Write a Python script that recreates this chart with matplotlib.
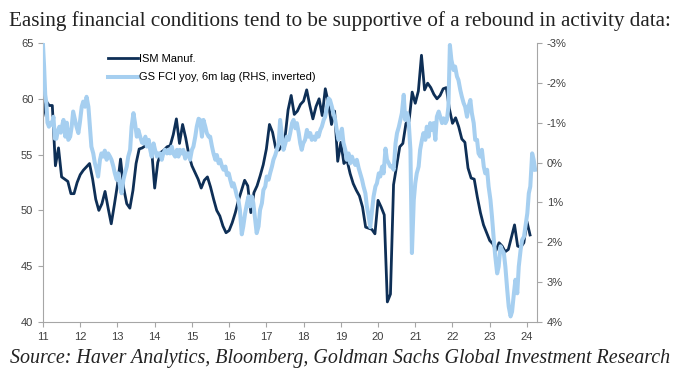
import matplotlib.pyplot as plt
import numpy as np

plt.rcParams['font.family'] = ['Liberation Sans', 'DejaVu Sans']

# ISM manufacturing, monthly Jan 2011 - Feb 2024
ism = [
    58.5, 59.8, 59.4, 59.4, 54.0, 55.6, 53.0, 52.8, 52.6, 51.5, 51.5, 52.5,  # 2011
    53.2, 53.6, 53.9, 54.2, 52.8, 51.0, 50.0, 50.6, 51.7, 50.2, 48.8, 50.5,  # 2012
    52.3, 54.6, 52.0, 50.6, 50.2, 51.8, 54.2, 55.5, 55.6, 55.8, 56.1, 55.5,  # 2013
    52.0, 54.3, 55.2, 55.4, 55.7, 55.8, 56.8, 58.2, 56.0, 57.7, 56.5, 55.0,  # 2014
    54.0, 53.4, 52.8, 52.0, 52.7, 53.0, 52.1, 51.0, 50.0, 49.5, 48.6, 48.0,  # 2015
    48.2, 48.9, 49.8, 50.9, 51.8, 52.7, 52.2, 49.8, 51.6, 52.2, 53.1, 54.1,  # 2016
    55.5, 57.7, 57.0, 55.6, 55.4, 55.8, 56.5, 59.0, 60.3, 58.6, 58.9, 59.5,  # 2017
    59.8, 60.8, 59.4, 58.2, 59.3, 60.0, 58.5, 60.9, 59.6, 57.7, 58.9, 54.4,  # 2018
    56.1, 54.2, 54.5, 53.3, 52.4, 51.8, 51.3, 50.3, 48.5, 48.4, 48.3, 47.9,  # 2019
    50.9, 50.3, 49.6, 41.8, 42.5, 52.3, 54.0, 55.7, 56.0, 57.8, 58.0, 60.6,  # 2020
    59.6, 60.7, 63.9, 60.8, 61.4, 61.0, 60.4, 60.0, 60.3, 60.9, 61.0, 59.1,  # 2021
    57.8, 58.3, 57.5, 56.4, 56.1, 53.8, 52.9, 52.8, 51.2, 49.8, 48.7, 48.0,  # 2022
    47.3, 47.0, 46.4, 47.1, 46.8, 46.3, 46.5, 47.6, 48.7, 46.8, 46.7, 47.1,  # 2023
    49.0, 47.8,                                                              # 2024
]
ism_t = 11 + np.arange(len(ism)) / 12

# GS FCI yoy, 6m lag (%, plotted on inverted right axis)
fci_t = [
    11.00, 11.03, 11.06, 11.09, 11.12, 11.16, 11.20, 11.24, 11.28, 11.32, 11.36, 11.40,
    11.44, 11.48, 11.52, 11.55, 11.60, 11.64, 11.68, 11.73, 11.77, 11.81, 11.86, 11.90,
    11.95, 11.99, 12.04, 12.08, 12.13, 12.17, 12.22, 12.26, 12.30, 12.35, 12.39, 12.44,
    12.48, 12.53, 12.57, 12.62, 12.66, 12.71, 12.75, 12.80, 12.84, 12.89, 12.93, 12.98,
    13.02, 13.07, 13.11, 13.16, 13.20, 13.25, 13.29, 13.34, 13.38, 13.43, 13.47, 13.52,
    13.56, 13.61, 13.66, 13.70, 13.75, 13.79, 13.84, 13.88, 13.92, 13.97, 14.01, 14.06,
    14.10, 14.15, 14.19, 14.23, 14.28, 14.33, 14.37, 14.41, 14.46, 14.50, 14.55, 14.60,
    14.64, 14.68, 14.73, 14.77, 14.82, 14.86, 14.91, 14.95, 15.00, 15.04, 15.09, 15.13,
    15.18, 15.22, 15.27, 15.31, 15.36, 15.40, 15.45, 15.49, 15.54, 15.58, 15.63, 15.67,
    15.72, 15.76, 15.81, 15.85, 15.90, 15.94, 15.99, 16.03, 16.08, 16.12, 16.17, 16.21,
    16.25, 16.29, 16.34, 16.38, 16.43, 16.48, 16.52, 16.56, 16.61, 16.65, 16.70, 16.74,
    16.79, 16.83, 16.88, 16.92, 16.97, 17.01, 17.06, 17.10, 17.15, 17.19, 17.24, 17.28,
    17.33, 17.37, 17.42, 17.46, 17.51, 17.55, 17.60, 17.64, 17.69, 17.73, 17.78, 17.82,
    17.87, 17.91, 17.95, 17.99, 18.04, 18.09, 18.13, 18.18, 18.22, 18.27, 18.31, 18.36,
    18.40, 18.45, 18.49, 18.54, 18.58, 18.63, 18.67, 18.71, 18.76, 18.80, 18.85, 18.89,
    18.94, 18.98, 19.03, 19.07, 19.12, 19.16, 19.21, 19.25, 19.30, 19.34, 19.39, 19.43,
    19.48, 19.52, 19.57, 19.61, 19.66, 19.70, 19.75, 19.79, 19.84, 19.88, 19.93, 19.97,
    20.02, 20.06, 20.11, 20.15, 20.20, 20.24, 20.29, 20.33, 20.38, 20.42, 20.47, 20.51,
    20.56, 20.60, 20.64, 20.69, 20.73, 20.78, 20.82, 20.87, 20.91, 20.96, 21.00, 21.04,
    21.09, 21.13, 21.18, 21.22, 21.27, 21.31, 21.36, 21.40, 21.45, 21.49, 21.54, 21.58,
    21.63, 21.67, 21.72, 21.76, 21.81, 21.85, 21.89, 21.93, 21.97, 22.03, 22.07, 22.12,
    22.16, 22.21, 22.25, 22.30, 22.34, 22.39, 22.43, 22.48, 22.52, 22.57, 22.61, 22.66,
    22.70, 22.75, 22.79, 22.84, 22.88, 22.93, 22.97, 23.02, 23.06, 23.11, 23.15, 23.20,
    23.24, 23.29, 23.33, 23.38, 23.42, 23.47, 23.51, 23.56, 23.60, 23.65, 23.69, 23.74,
    23.78, 23.83, 23.87, 23.92, 23.96, 24.01, 24.05, 24.09, 24.14, 24.18, 24.22,
]
fci = [
    -2.95, -2.40, -1.70, -1.50, -1.00, -0.90, -1.00, -0.95, -1.15, -0.60, -0.60, -0.80,
    -0.90, -0.75, -0.95, -1.07, -0.65, -1.00, -0.57, -0.65, -0.90, -1.28, -1.07, -0.90,
    -0.74, -1.00, -1.40, -1.53, -1.40, -1.65, -1.40, -0.90, -0.40, -0.23, 0.00, 0.18,
    0.35, -0.07, -0.23, -0.15, -0.30, -0.07, -0.23, -0.15, -0.07, 0.10, 0.27, 0.43,
    0.27, 0.60, 0.77, 0.43, 0.27, 0.10, -0.15, -0.32, -0.90, -1.24, -1.00, -0.65,
    -0.82, -0.65, -0.50, -0.48, -0.65, -0.40, -0.57, -0.32, -0.15, -0.48, -0.32, -0.15,
    -0.23, -0.23, -0.07, -0.23, -0.32, -0.23, -0.32, -0.23, -0.40, -0.23, -0.15, -0.32,
    -0.15, -0.32, -0.23, -0.32, -0.10, -0.23, -0.23, -0.07, -0.32, -0.40, -0.65, -0.90,
    -1.10, -1.07, -0.65, -1.07, -0.90, -0.74, -0.65, -0.65, -0.40, -0.23, -0.07, -0.19,
    0.02, -0.07, 0.10, 0.18, 0.10, 0.31, 0.27, 0.43, 0.60, 0.52, 0.69, 0.85,
    0.94, 1.20, 1.80, 1.60, 1.27, 1.02, 0.85, 1.10, 0.85, 1.02, 1.44, 1.77,
    1.60, 1.19, 1.02, 0.69, 0.60, 0.35, 0.43, 0.27, 0.10, -0.07, -0.19, -0.32,
    -0.48, -1.07, -0.65, -0.32, -0.48, -0.65, -0.57, -0.74, -0.99, -1.07, -0.86, -0.99,
    -0.74, -0.48, -0.32, -0.48, -0.57, -0.82, -0.65, -0.74, -0.57, -0.65, -0.57, -0.74,
    -0.65, -0.82, -0.90, -1.07, -1.15, -1.40, -1.61, -1.57, -1.40, -1.24, -1.07, -0.82,
    -0.57, -0.70, -0.85, -0.50, -0.32, -0.07, -0.23, 0.02, -0.15, -0.03, 0.06, -0.07,
    0.14, 0.27, 0.43, 0.60, 0.77, 1.10, 1.35, 1.62, 1.19, 0.85, 0.60, 0.52,
    0.27, 0.35, 0.10, 0.27, -0.35, -0.07, 0.02, 0.10, 0.10, 0.18, -0.48, -0.74,
    -0.90, -1.07, -1.24, -1.70, -1.07, -1.24, -1.07, -0.32, 2.27, 0.94, 0.52, 0.27,
    0.10, -0.32, -0.57, -0.74, -0.57, -0.90, -0.65, -0.99, -0.82, -0.99, -0.57, -1.15,
    -1.28, -1.15, -0.99, -1.11, -0.99, -1.07, -1.40, -2.95, -2.58, -2.32, -2.41, -2.16,
    -2.07, -1.82, -1.66, -1.49, -1.40, -1.15, -1.40, -1.57, -1.24, -0.99, -0.57, -0.57,
    -0.23, -0.15, -0.32, 0.10, 0.27, 0.18, 0.60, 0.94, 1.35, 1.94, 2.36, 2.78,
    2.61, 2.10, 2.19, 2.27, 2.61, 3.19, 3.61, 3.86, 3.74, 3.28, 2.94, 3.28,
    2.61, 2.19, 1.94, 1.86, 1.60, 1.27, 0.77, 0.60, -0.23, -0.07, 0.18,
]

years = list(range(11, 25))
left_ticks = [40, 45, 50, 55, 60, 65]
right_ticks = [-3, -2, -1, 0, 1, 2, 3, 4]

dark = '#0e2f56'
light = '#a6cff0'
grey = '#a6a6a6'
txt = '#404040'

fig, ax = plt.subplots(figsize=(6.8, 3.76), dpi=100)
fig.subplots_adjust(left=43/680, right=537/680, bottom=1-322/376, top=1-43/376)

l1, = ax.plot(ism_t, ism, color=dark, lw=2.0, solid_joinstyle='round')
ax.set_xlim(11, 24.27)
ax.set_ylim(40, 65)
ax.set_yticks(left_ticks)
ax.set_xticks(years)
ax.set_xticklabels([str(y) for y in years])

ax2 = ax.twinx()
l2, = ax2.plot(fci_t, fci, color=light, lw=2.9, solid_joinstyle='round')
ax2.set_ylim(4, -3)
ax2.set_yticks(right_ticks)
ax2.set_yticklabels(['%d%%' % v for v in right_ticks])

for a in (ax, ax2):
    a.spines['top'].set_visible(False)
    for s in ('left', 'right', 'bottom'):
        a.spines[s].set_color(grey)
    a.tick_params(colors=grey, labelcolor=txt, labelsize=8, length=3.5, width=0.8)
ax.spines['right'].set_visible(False)
ax2.spines['left'].set_visible(False)
ax2.spines['bottom'].set_visible(False)

ax2.legend([l1, l2], ['ISM Manuf.', 'GS FCI yoy, 6m lag (RHS, inverted)'],
           loc='upper left', bbox_to_anchor=(0.1316, 0.962), frameon=False,
           fontsize=8, handlelength=2.7, handletextpad=0.1, borderpad=0,
           borderaxespad=0, labelspacing=0.8)

fig.text(0.5, 0.945, 'Easing financial conditions tend to be supportive of a rebound in activity data:',
         ha='center', va='center', fontsize=15.2, family='Liberation Serif', color='#222222')
fig.text(0.5, 0.046, 'Source: Haver Analytics, Bloomberg, Goldman Sachs Global Investment Research',
         ha='center', va='center', fontsize=14.4, family='Liberation Serif', style='italic',
         color='#222222')

fig.savefig('out.png', dpi=100)
